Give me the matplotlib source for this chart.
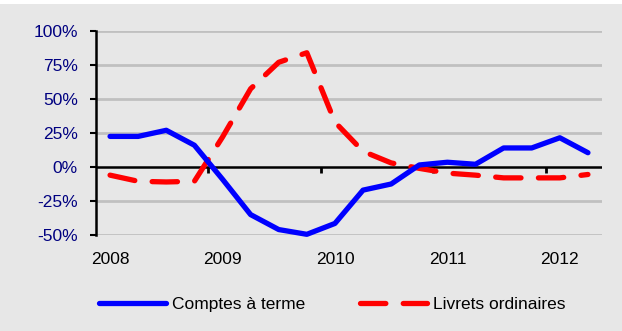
import matplotlib
matplotlib.use("Agg")
import matplotlib.pyplot as plt
from matplotlib.lines import Line2D
from matplotlib.patches import Rectangle
import matplotlib.transforms as mtransforms

plt.rcParams['font.family'] = ['Liberation Sans', 'DejaVu Sans']

# Quarterly growth rates, 2008 Q1 - 2012 Q2
quarters = list(range(18))
comptes_a_terme = [22.5, 22.5, 27, 16, -9, -35, -46, -49.5, -41.5, -17,
                   -12.5, 1.5, 3.5, 2, 14, 14, 21.5, 10.5]
livrets_ordinaires = [-6, -10.5, -11, -10.5, 22, 57.5, 77, 84, 33, 11.5,
                      3, -1, -4.5, -6, -8, -8, -8, -5.5]
year_labels = ['2008', '2009', '2010', '2011', '2012']
year_label_quarters = [0, 4, 8, 12, 16]
year_boundaries = [3.5, 7.5, 11.5, 15.5]
y_ticks = [-50, -25, 0, 25, 50, 75, 100]

fs = 12.5
bg = '#e7e7e7'
fig = plt.figure(figsize=(6.22, 3.31), dpi=100, facecolor=bg)
fig.patches.append(Rectangle((0, 1 - 4 / 331), 1, 4 / 331, transform=fig.transFigure,
                             facecolor='white', edgecolor='none', zorder=0))

ax = fig.add_axes([96 / 622, 1 - 235 / 331, 506 / 622, 204 / 331])
ax.set_facecolor('none')
ax.set_xlim(-0.5, 17.5)
ax.set_ylim(-50, 100)

# horizontal gridlines
for v in y_ticks:
    if v != 0:
        ax.axhline(v, color='#c0c0c0', lw=2.0, zorder=1)

for s in ['top', 'right', 'bottom']:
    ax.spines[s].set_visible(False)
ax.spines['left'].set_linewidth(1.8)
ax.spines['left'].set_color('black')

ax.set_yticks(y_ticks)
ax.set_yticklabels([f'{v}%' for v in y_ticks])
ax.tick_params(axis='y', direction='out', length=4, width=1.5, pad=9,
               labelsize=fs, colors='black')
for lab in ax.get_yticklabels():
    lab.set_color('#000080')

# zero line with year separators
ax.axhline(0, color='black', lw=1.8, zorder=2)
ax.set_xticks([])
for b in year_boundaries:
    ax.plot([b, b], [0, -4.5], color='black', lw=2.0, zorder=2, solid_capstyle='butt')

trans = mtransforms.blended_transform_factory(ax.transData, ax.transAxes)
for q, lab in zip(year_label_quarters, year_labels):
    ax.text(q, -0.118, lab, transform=trans, ha='center', va='center',
            fontsize=fs, color='black')

lw = 3.8
dash = (4.8, 3.3)
ax.plot(quarters, comptes_a_terme, color='#0000ff', lw=lw, zorder=4,
        solid_capstyle='round', solid_joinstyle='round', clip_on=False)
ax.plot(quarters, livrets_ordinaires, color='#ff0000', lw=lw, zorder=3,
        dashes=dash, dash_capstyle='round', clip_on=False)

handles = [Line2D([], [], color='#0000ff', lw=lw, solid_capstyle='round'),
           Line2D([], [], color='#ff0000', lw=lw, dashes=dash, dash_capstyle='round')]
fig.legend(handles, ['Comptes à terme', 'Livrets ordinaires'], loc='center',
           bbox_to_anchor=(332 / 622, 1 - 304 / 331), ncol=2, frameon=False,
           fontsize=fs, handlelength=3.85, handletextpad=0.35, columnspacing=3.15)

fig.savefig('out.png', dpi=100, facecolor=bg)
